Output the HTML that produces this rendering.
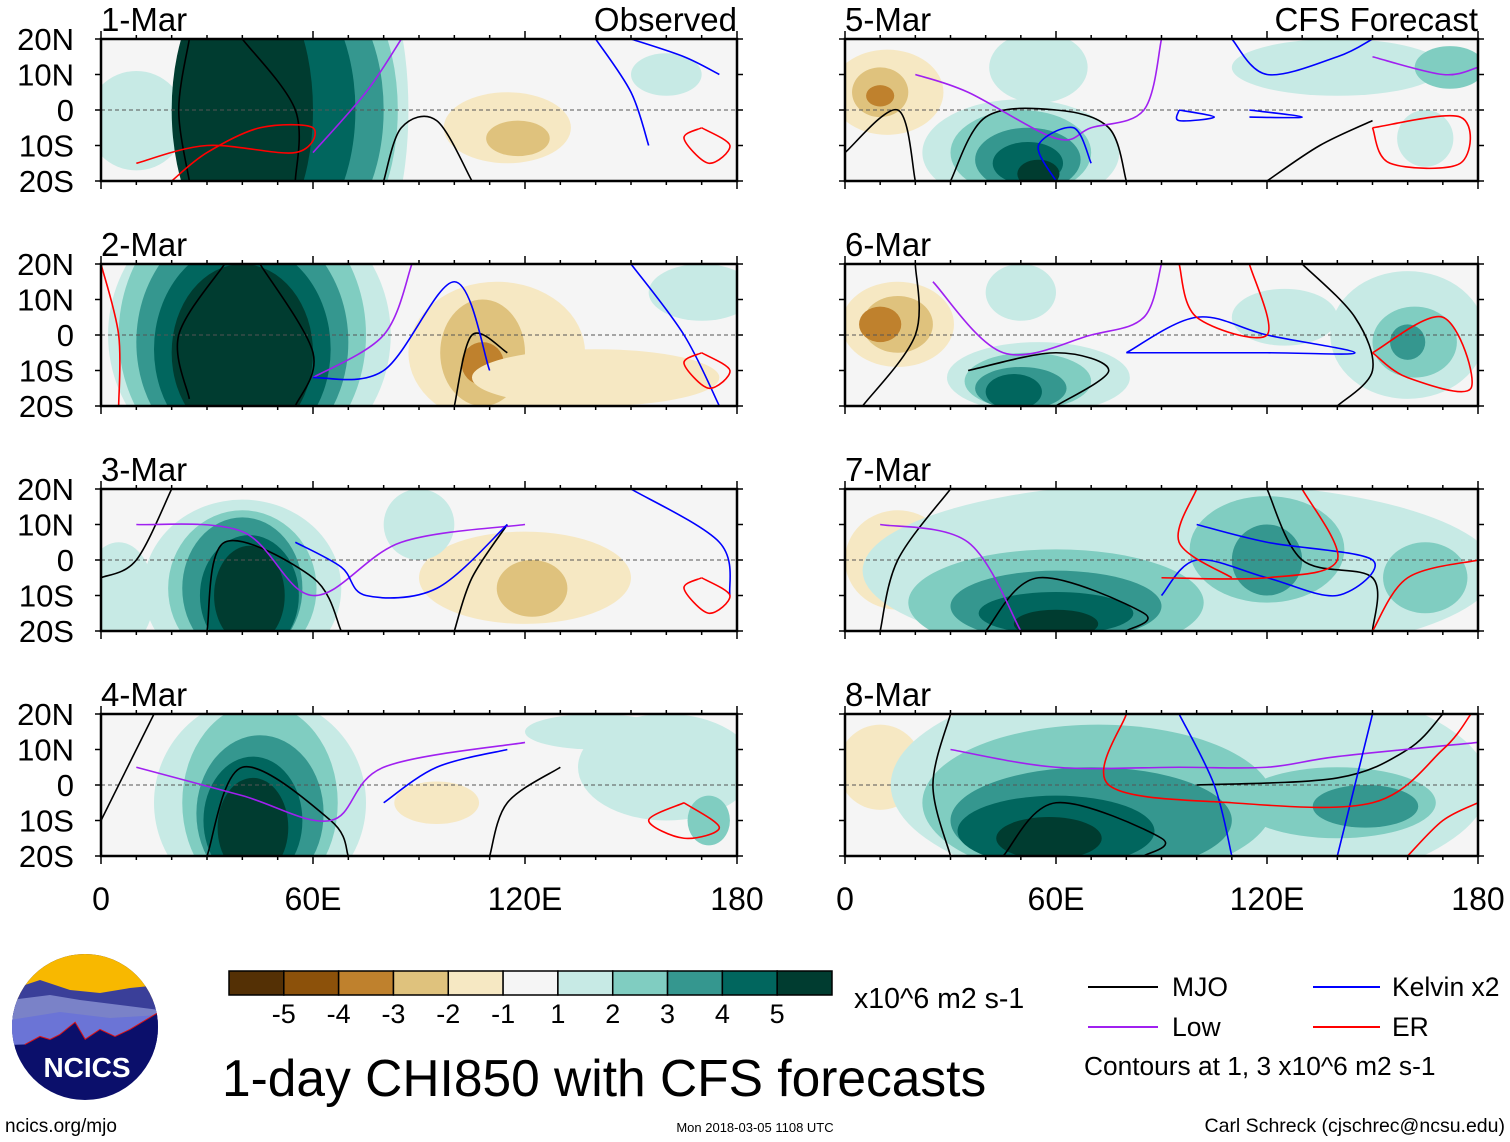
<!DOCTYPE html>
<html><head><meta charset="utf-8"><style>
body{margin:0;background:#fff;}
svg{display:block;font-family:"Liberation Sans",sans-serif;}
</style></head><body>
<svg id="chart" width="1510" height="1142" viewBox="0 0 1510 1142" xmlns="http://www.w3.org/2000/svg">
<defs id="defs"></defs>
<g id="panels"></g>
<g id="bottom">
  <text x="101" y="910" font-size="32" text-anchor="middle">0</text>
  <text x="313" y="910" font-size="32" text-anchor="middle">60E</text>
  <text x="525" y="910" font-size="32" text-anchor="middle">120E</text>
  <text x="737" y="910" font-size="32" text-anchor="middle">180</text>
  <text x="845" y="910" font-size="32" text-anchor="middle">0</text>
  <text x="1056" y="910" font-size="32" text-anchor="middle">60E</text>
  <text x="1267" y="910" font-size="32" text-anchor="middle">120E</text>
  <text x="1478" y="910" font-size="32" text-anchor="middle">180</text>
</g>
<g id="colorbar"></g>
<text x="854" y="1008" font-size="28.5">x10^6 m2 s-1</text>
<text x="222" y="1096" font-size="51.5">1-day CHI850 with CFS forecasts</text>
<g>
  <line x1="1088" y1="987" x2="1158" y2="987" stroke="#000" stroke-width="2"/>
  <text x="1172" y="996" font-size="26.5">MJO</text>
  <line x1="1313" y1="987" x2="1380" y2="987" stroke="#0000ff" stroke-width="2"/>
  <text x="1392" y="996" font-size="26.5">Kelvin x2</text>
  <line x1="1088" y1="1027" x2="1158" y2="1027" stroke="#a020f0" stroke-width="2"/>
  <text x="1172" y="1036" font-size="26.5">Low</text>
  <line x1="1313" y1="1027" x2="1380" y2="1027" stroke="#ff0000" stroke-width="2"/>
  <text x="1392" y="1036" font-size="26.5">ER</text>
  <text x="1084" y="1075" font-size="26.3">Contours at 1, 3 x10^6 m2 s-1</text>
</g>
<g>
  <clipPath id="logoClip"><circle cx="85" cy="1027" r="73"/></clipPath>
  <g clip-path="url(#logoClip)">
    <rect x="10" y="952" width="150" height="150" fill="#0b0f6b"/>
    <rect x="10" y="952" width="150" height="50" fill="#f8b800"/>
    <path d="M10 990 L40 980 L70 990 L100 993 L130 988 L160 985 L160 1015 L10 1025Z" fill="#3a3f99"/>
    <path d="M10 1000 L50 995 L80 1000 L120 1005 L160 1010 L160 1030 L10 1035Z" fill="#7a82c8"/>
    <path d="M10 1020 L60 1012 L110 1018 L160 1015 L160 1040 L10 1045Z" fill="#6b74d6"/>
    <path d="M25 1045 L40 1037 L50 1040 L60 1035 L75 1023 L85 1040 L100 1030 L115 1037 L130 1030 L160 1012" fill="none" stroke="#e01010" stroke-width="2"/>
    <path d="M10 1050 L25 1045 L40 1037 L50 1040 L60 1035 L75 1023 L85 1040 L100 1030 L115 1037 L130 1030 L160 1012 L160 1060 L10 1060Z" fill="#0b0f6b"/>
  </g>
  <text x="87" y="1077" font-size="28" font-weight="bold" fill="#fff" text-anchor="middle">NCICS</text>
</g>
<text x="5" y="1132" font-size="19">ncics.org/mjo</text>
<text x="755" y="1132" font-size="13" text-anchor="middle">Mon 2018-03-05 1108 UTC</text>
<text x="1505" y="1132" font-size="19.5" text-anchor="end">Carl Schreck (cjschrec@ncsu.edu)</text>
</svg>
<script>
// ---- data ----
const levelColors = ["#543005","#8c510a","#bf812d","#dfc27d","#f6e8c3","#f5f5f5","#c7eae5","#80cdc1","#35978f","#01665e","#003c30"];
const colorbarTicks = ["-5","-4","-3","-2","-1","1","2","3","4","5"];
const panelTitles = ["1-Mar","2-Mar","3-Mar","4-Mar","5-Mar","6-Mar","7-Mar","8-Mar"];
const latTicks = ["20N","10N","0","10S","20S"];
// blobs: [lon, lat, radiusLon, radiusLat, level(-5..5)]
const blobs1 = [[10,-3,14,14,1],[75,0,12,40,1],[62,0,22,40,2],[55,0,25,40,3],[48,0,24,40,4],[40,0,20,40,5],[115,-5,18,10,-1],[118,-8,9,5,-2],[160,10,10,6,1]];
const blobs2 = [[42,0,40,40,1],[40,0,35,40,2],[40,-2,30,35,3],[40,-4,25,30,4],[40,-5,20,25,5],[112,-5,25,20,-1],[108,-5,12,15,-2],[108,-8,6,6,-3],[140,-12,35,8,-1],[170,12,15,8,1]];
const blobs3 = [[40,-8,28,25,1],[40,-8,21,22,2],[40,-8,17,20,3],[42,-10,14,17,4],[42,-10,10,14,5],[120,-5,30,13,-1],[122,-8,10,8,-2],[5,-10,10,15,1],[90,10,10,10,1]];
const blobs4 = [[45,-5,30,30,1],[45,-5,22,28,2],[45,-8,18,22,3],[43,-10,14,18,4],[43,-12,10,14,5],[160,5,25,15,1],[172,-10,6,7,2],[95,-5,12,6,-1],[140,15,20,5,1]];
const blobs5 = [[12,5,16,12,-1],[10,5,8,7,-2],[10,4,4,3,-3],[50,-12,28,15,1],[50,-12,20,12,2],[52,-14,15,9,3],[52,-15,10,6,4],[55,-18,6,4,5],[55,12,14,10,1],[140,12,30,8,1],[172,12,10,6,2],[165,-8,8,8,1]];
const blobs6 = [[15,3,16,12,-1],[15,3,10,8,-2],[10,3,6,5,-3],[55,-12,26,10,1],[52,-13,18,8,2],[50,-15,13,6,3],[48,-16,8,5,4],[160,0,22,18,1],[162,-2,12,10,2],[160,-2,5,5,3],[125,5,15,8,1],[50,12,10,8,1]];
const blobs7 = [[15,0,15,14,-1],[15,0,7,7,-2],[95,-3,90,25,1],[60,-12,42,15,2],[60,-13,30,10,3],[60,-15,22,6,4],[60,-18,12,4,5],[120,3,22,15,2],[120,0,10,10,3],[165,-5,12,10,2]];
const blobs8 = [[10,5,12,12,-1],[98,0,85,32,1],[72,-5,50,22,2],[70,-10,40,15,3],[60,-13,28,10,4],[58,-15,15,6,5],[140,-5,28,10,2],[148,-6,15,6,3]];
const blobsAll = [blobs1,blobs2,blobs3,blobs4,blobs5,blobs6,blobs7,blobs8];
// contour polylines: [series, [lon,lat]...]
const lines1 = [["mjo",[[25,20],[22,0],[25,-20]]],["mjo",[[40,20],[55,0],[55,-20]]],["mjo",[[80,-20],[85,-5],[95,-3],[105,-20]]],["low",[[60,-12],[75,5],[85,20]]],["kelvin",[[140,20],[150,5],[155,-10]]],["kelvin",[[150,20],[165,15],[175,10]]],["er",[[10,-15],[30,-10],[55,-12],[60,-5],[45,-5],[30,-12],[20,-20]]],["er",[[170,-5],[178,-10],[172,-15],[165,-8],[170,-5]]]];
const lines2 = [["mjo",[[35,20],[22,0],[25,-18]]],["mjo",[[45,20],[60,-5],[55,-20]]],["mjo",[[100,-20],[105,0],[115,-5]]],["low",[[60,-12],[80,0],[88,20]]],["kelvin",[[60,-12],[80,-10],[100,15],[110,-10]]],["kelvin",[[150,20],[165,0],[175,-20]]],["er",[[0,20],[5,0],[5,-20]]],["er",[[170,-5],[178,-10],[172,-15],[165,-8],[170,-5]]]];
const lines3 = [["mjo",[[20,20],[10,0],[0,-5]]],["mjo",[[30,-20],[35,5],[60,-5],[68,-20]]],["mjo",[[100,-20],[105,-5],[115,10]]],["low",[[10,10],[40,8],[60,-10],[85,5],[120,10]]],["kelvin",[[55,5],[68,-2],[75,-10],[95,-8],[115,10]]],["kelvin",[[150,20],[175,5],[178,-10]]],["er",[[170,-5],[178,-10],[172,-15],[165,-8],[170,-5]]]];
const lines4 = [["mjo",[[15,20],[0,-10]]],["mjo",[[30,-20],[40,5],[65,-10],[70,-20]]],["mjo",[[110,-20],[115,-5],[130,5]]],["low",[[10,5],[40,-3],[65,-10],[80,5],[120,12]]],["kelvin",[[80,-5],[95,5],[115,10]]],["er",[[165,-5],[175,-12],[165,-15],[155,-10],[165,-5]]]];
const lines5 = [["mjo",[[0,-12],[15,0],[20,-20]]],["mjo",[[30,-20],[40,-2],[60,0],[75,-5],[80,-20]]],["mjo",[[120,-20],[135,-10],[150,-3]]],["low",[[20,10],[35,5],[60,-8],[70,-5],[85,0],[90,20]]],["kelvin",[[70,-15],[65,-5],[55,-10],[60,-20]]],["kelvin",[[95,0],[105,-2],[95,-3],[95,0]]],["kelvin",[[115,0],[130,-2],[115,-2]]],["kelvin",[[110,20],[120,10],[140,15],[150,20]]],["low",[[150,15],[170,10],[180,12]]],["er",[[150,-5],[175,-2],[175,-15],[155,-15],[150,-5]]]];
const lines6 = [["mjo",[[5,-20],[20,0],[20,20]]],["mjo",[[35,-10],[60,-5],[75,-10],[60,-20]]],["mjo",[[130,20],[145,5],[150,-10],[140,-20]]],["low",[[25,15],[45,-5],[70,0],[85,5],[90,20]]],["kelvin",[[80,-5],[100,5],[120,0],[145,-5],[120,-5],[80,-5]]],["er",[[95,20],[100,5],[120,0],[115,20]]],["er",[[150,-5],[170,5],[178,-15],[160,-12],[150,-5]]]];
const lines7 = [["mjo",[[30,20],[15,0],[10,-20]]],["mjo",[[40,-20],[55,-5],[85,-15],[80,-20]]],["mjo",[[120,20],[130,0],[150,-5],[150,-20]]],["low",[[10,10],[35,5],[50,-20]]],["kelvin",[[90,-10],[100,0],[120,-5],[140,-10],[150,0],[120,5],[100,10]]],["er",[[90,-5],[120,-5],[140,0],[130,20]]],["er",[[100,20],[95,5],[110,-5]]],["er",[[150,-20],[160,-5],[180,0]]]];
const lines8 = [["mjo",[[30,20],[25,0],[30,-20]]],["mjo",[[45,-20],[60,-5],[90,-15],[85,-20]]],["mjo",[[100,0],[140,2],[160,10],[170,20]]],["low",[[30,10],[60,5],[95,5],[120,5],[140,8],[180,12]]],["kelvin",[[95,20],[105,0],[110,-20]]],["kelvin",[[150,20],[145,0],[140,-20]]],["er",[[80,20],[75,0],[110,-5],[150,-5],[170,10],[178,20]]],["er",[[160,-20],[170,-10],[180,-5]]]];
const linesAll = [lines1,lines2,lines3,lines4,lines5,lines6,lines7,lines8];

// ---- drawing ----
const NS="http://www.w3.org/2000/svg";
const seriesColor={mjo:"#000",low:"#a020f0",kelvin:"#0000ff",er:"#ff0000"};
const panelsG=document.getElementById('panels');
const defs=document.getElementById('defs');
const colX=[101,845], colW=[636,633], rowY=[39,264,489,714], PH=142;
function mk(tag,attrs,parent){const e=document.createElementNS(NS,tag);for(const k in attrs)e.setAttribute(k,attrs[k]);parent.appendChild(e);return e;}
function smooth(P){
  if(P.length<3)return 'M'+P.map(p=>p.join(',')).join(' L');
  let d='M'+P[0][0]+','+P[0][1];
  for(let i=0;i<P.length-1;i++){
    const p0=P[i-1]||P[i],p1=P[i],p2=P[i+1],p3=P[i+2]||p2;
    const c1=[p1[0]+(p2[0]-p0[0])/6,p1[1]+(p2[1]-p0[1])/6];
    const c2=[p2[0]-(p3[0]-p1[0])/6,p2[1]-(p3[1]-p1[1])/6];
    d+=' C'+c1+' '+c2+' '+p2;
  }
  return d;
}
for(let p=0;p<8;p++){
  const col=p<4?0:1,row=p%4;
  const x0=colX[col],w=colW[col],y0=rowY[row];
  const xs=lon=>x0+lon*w/180, ys=lat=>y0+(20-lat)*PH/40;
  const g=mk('g',{},panelsG);
  
  
  const cp=mk('clipPath',{id:'cp'+p},defs);
  mk('rect',{x:x0,y:y0,width:w,height:PH},cp);
  mk('rect',{x:x0,y:y0,width:w,height:PH,fill:levelColors[5]},g);
  const inner=mk('g',{'clip-path':'url(#cp'+p+')'},g);
  for(const b of blobsAll[p]){
    const e=mk('ellipse',{cx:xs(b[0]),cy:ys(b[1]),rx:b[2]*w/180,ry:b[3]*PH/40,fill:levelColors[b[4]+5]},inner);
    
    
  }
  mk('line',{x1:x0,y1:ys(0),x2:x0+w,y2:ys(0),stroke:'#555','stroke-dasharray':'4 3','stroke-width':1},inner);
  for(const l of linesAll[p]){
    const pts=l[1].map(q=>[xs(q[0]),ys(q[1])]);
    const pl=mk('path',{d:smooth(pts),fill:'none',stroke:seriesColor[l[0]],'stroke-width':1.6,'stroke-linejoin':'round'},inner);
    
    
  }
  mk('rect',{x:x0,y:y0,width:w,height:PH,fill:'none',stroke:'#000','stroke-width':2.5},g);
  for(let lon=0;lon<=180;lon+=10){const len=lon%60==0?8:4;
    mk('line',{x1:xs(lon),y1:y0,x2:xs(lon),y2:y0-len,stroke:'#000','stroke-width':1.5},g);
    mk('line',{x1:xs(lon),y1:y0+PH,x2:xs(lon),y2:y0+PH+len,stroke:'#000','stroke-width':1.5},g);}
  for(let lat=-20;lat<=20;lat+=10){
    mk('line',{x1:x0-6,y1:ys(lat),x2:x0,y2:ys(lat),stroke:'#000','stroke-width':1.5},g);
    mk('line',{x1:x0+w,y1:ys(lat),x2:x0+w+6,y2:ys(lat),stroke:'#000','stroke-width':1.5},g);}
  const t=mk('text',{x:x0,y:y0-8,'font-size':33},g);t.textContent=panelTitles[p];
  
  
  if(row==0){const s=mk('text',{x:x0+w,y:y0-8,'font-size':33,'text-anchor':'end'},g);s.textContent=col==0?'Observed':'CFS Forecast';
    
    }
  if(col==0){latTicks.forEach((lt,i)=>{const tt=mk('text',{x:74,y:y0+i*PH/4+11,'font-size':31,'text-anchor':'end'},g);tt.textContent=lt;
    
    });}
}
const cb=document.getElementById('colorbar');
const cbx=229,cbw=603,cby=971,cbh=24,bw=cbw/11;
levelColors.forEach((c,i)=>{const r=mk('rect',{x:cbx+i*bw,y:cby,width:bw,height:cbh,fill:c,stroke:'#000','stroke-width':1.5},cb);
  
  });
colorbarTicks.forEach((t,i)=>{const e=mk('text',{x:cbx+(i+1)*bw,y:1023,'font-size':27,'text-anchor':'middle'},cb);e.textContent=t;
  
  });
</script>
</body></html>
